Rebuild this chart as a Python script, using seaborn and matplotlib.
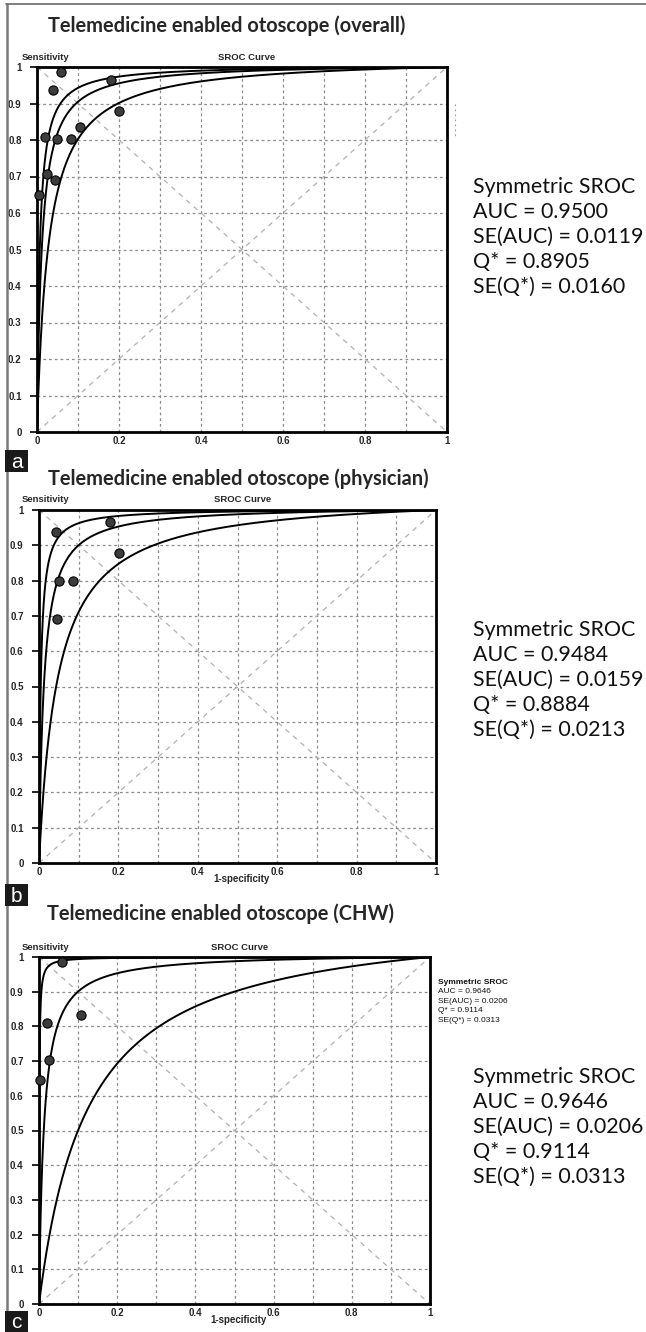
import numpy as np
import pandas as pd
import matplotlib
matplotlib.use("Agg")
import matplotlib.pyplot as plt
from matplotlib.lines import Line2D
from matplotlib.patches import Rectangle
import seaborn as sns

# ---------------- data ----------------
panel_titles = ["Telemedicine enabled otoscope (overall)",
                "Telemedicine enabled otoscope (physician)",
                "Telemedicine enabled otoscope (CHW)"]
panel_letters = ["a", "b", "c"]

# study points (1-specificity, sensitivity)
fpr_a = [0.058, 0.039, 0.020, 0.049, 0.084, 0.106, 0.180, 0.200, 0.025, 0.044, 0.004]
sens_a = [0.986, 0.936, 0.809, 0.802, 0.802, 0.835, 0.965, 0.879, 0.707, 0.691, 0.650]
fpr_b = [0.042, 0.180, 0.050, 0.085, 0.201, 0.046]
sens_b = [0.939, 0.965, 0.800, 0.800, 0.879, 0.691]
fpr_c = [0.059, 0.020, 0.107, 0.025, 0.003]
sens_c = [0.987, 0.809, 0.833, 0.704, 0.646]

# SROC curves: log diagnostic odds ratio of (upper, middle, lower) curve
lndor_a = [5.0, 4.45, 3.6]
lndor_b = [5.45, 4.4, 3.1]
lndor_c = [7.3, 4.4, 2.2]

auc_vals = ["0.9500", "0.9484", "0.9646"]
se_auc_vals = ["0.0119", "0.0159", "0.0206"]
q_vals = ["0.8905", "0.8884", "0.9114"]
se_q_vals = ["0.0160", "0.0213", "0.0313"]

y_ticks = [0, 0.1, 0.2, 0.3, 0.4, 0.5, 0.6, 0.7, 0.8, 0.9, 1]
y_tick_labels = ["0", "0.1", "0.2", "0.3", "0.4", "0.5", "0.6", "0.7", "0.8", "0.9", "1"]
x_ticks = [0, 0.2, 0.4, 0.6, 0.8, 1]
x_tick_labels = ["0", "0.2", "0.4", "0.6", "0.8", "1"]
grid_vals = [0.1, 0.2, 0.3, 0.4, 0.5, 0.6, 0.7, 0.8, 0.9]

# ---------------- layout ----------------
W, H = 646, 1332
sns.set_theme(style="white")
plt.rcParams["font.family"] = ["Liberation Sans", "DejaVu Sans"]
SANS = ["Liberation Sans", "DejaVu Sans"]

fig = plt.figure(figsize=(W / 100, H / 100), dpi=100)
fig.patch.set_facecolor("white")
renderer = fig.canvas.get_renderer()


def fx(x):
    return x / W


def fy(y):
    return 1 - y / H


def fit_size(text, family, weight, target, base=12.0):
    t = fig.text(0, 0, text, fontsize=base, family=family, weight=weight)
    w = t.get_window_extent(renderer).width
    t.remove()
    return base * target / w


# axes boxes in pixel coords (left, right, top, bottom)
boxes = [(37, 447, 67, 432), (39, 436, 510, 863), (39, 430, 957, 1304)]
title_base = [32, 485, 920]
title_x = [48, 48, 47]
letter_boxes = [(5, 450, 23, 22), (5, 884, 23, 22), (5, 1311, 23, 21)]

title_fs = fit_size(panel_titles[0], "Lato", "bold", 355)
big_fs = 0.5 * (fit_size("Symmetric SROC", "Lato", "normal", 164)
                + fit_size("SE(AUC) = 0.0119", "Lato", "normal", 167))

pts = [(fpr_a, sens_a), (fpr_b, sens_b), (fpr_c, sens_c)]
dors = [lndor_a, lndor_b, lndor_c]

xgrid = np.concatenate([np.logspace(-6, -1, 400), np.linspace(0.1, 0.99999, 400)[1:]])

for i in range(3):
    l, r, t, b = boxes[i]
    ax = fig.add_axes([fx(l), fy(b), (r - l) / W, (b - t) / H])
    ax.set_facecolor("white")
    # grid
    for g in grid_vals:
        ax.axhline(g, color="#8a8a8a", lw=0.9, ls=(0, (2.2, 2.4)), zorder=1)
        ax.axvline(g, color="#8a8a8a", lw=0.9, ls=(0, (2.2, 2.4)), zorder=1)
    # diagonals
    ax.plot([0, 1], [0, 1], color="#b0b0b0", lw=0.9, ls=(0, (4, 4)), zorder=1.5)
    ax.plot([0, 1], [1, 0], color="#b0b0b0", lw=0.9, ls=(0, (4, 4)), zorder=1.5)
    # SROC curves
    rows = []
    for k, d in enumerate(dors[i]):
        sens = 1.0 / (1.0 + np.exp(-(d + np.log(xgrid / (1 - xgrid)))))
        xs = np.concatenate([[0.0], xgrid, [1.0]])
        ys = np.concatenate([[0.0], sens, [1.0]])
        rows.append(pd.DataFrame({"fpr": xs, "sens": ys, "curve": k}))
    cdf = pd.concat(rows, ignore_index=True)
    sns.lineplot(data=cdf, x="fpr", y="sens", units="curve", estimator=None,
                 color="black", lw=1.4, ax=ax, sort=False, zorder=3)
    # points
    pdf = pd.DataFrame({"fpr": pts[i][0], "sens": pts[i][1]})
    sns.scatterplot(data=pdf, x="fpr", y="sens", s=44, color="#3c3c3c",
                    edgecolor="black", linewidth=0.8, ax=ax, zorder=4, clip_on=False)
    ax.set_xlim(0, 1)
    ax.set_ylim(0, 1)
    ax.set_xlabel("")
    ax.set_ylabel("")
    ax.set_yticks(y_ticks)
    ax.set_yticklabels(y_tick_labels, fontsize=7, fontweight="bold", family=SANS)
    ax.set_xticks(x_ticks)
    ax.set_xticklabels(x_tick_labels, fontsize=7, fontweight="bold", family=SANS)
    ax.tick_params(axis="y", length=5, width=1.2, color="black", pad=6, direction="out", left=True)
    ax.tick_params(axis="x", length=0, pad=3, bottom=True)
    for sp in ax.spines.values():
        sp.set_color("black")
        sp.set_linewidth(2)
        sp.set_visible(True)

    # labels around axes
    fig.text(fx(22), fy(t - 10), "Sensitivity", fontsize=6.8, fontweight="bold",
             ha="left", va="center", family=SANS)
    fig.text(fx((l + r) / 2 + 5), fy(t - 10), "SROC Curve", fontsize=6.8,
             fontweight="bold", ha="center", va="center", family=SANS)
    if i > 0:
        fig.text(fx((l + r) / 2 + 4), fy(b + 16), "1-specificity", fontsize=7,
                 fontweight="bold", ha="center", va="center", family=SANS)

    # title
    fig.text(fx(title_x[i]), fy(title_base[i]), panel_titles[i], family="Lato",
             fontweight="bold", fontsize=title_fs, ha="left", va="baseline")

    # big statistics text
    lines = ["Symmetric SROC", "AUC = " + auc_vals[i], "SE(AUC) = " + se_auc_vals[i],
             "Q* = " + q_vals[i], "SE(Q*) = " + se_q_vals[i]]
    for j, s in enumerate(lines):
        fig.text(fx(473), fy(t + 126 + 25 * j), s, family="Lato", fontsize=big_fs,
                 ha="left", va="baseline", color="#111111")

    # panel letter box
    lx, ly, lw_, lh = letter_boxes[i]
    fig.add_artist(Rectangle((fx(lx), fy(ly + lh)), lw_ / W, lh / H,
                             transform=fig.transFigure, facecolor="#1a1a1a",
                             edgecolor="none", zorder=5))
    fig.text(fx(lx + lw_ / 2), fy(ly + lh / 2 + 1), panel_letters[i], color="white",
             fontsize=15, ha="center", va="center", zorder=6, family=SANS)

# small in-plot statistics text of panel c
small_lines = ["Symmetric SROC", "AUC = " + auc_vals[2], "SE(AUC) = " + se_auc_vals[2],
               "Q* = " + q_vals[2], "SE(Q*) = " + se_q_vals[2]]
for j, s in enumerate(small_lines):
    fig.text(fx(438), fy(982 + 9.6 * j), s, fontsize=6, ha="left", va="center",
             fontweight="bold" if j == 0 else "normal", color="#111111", family=SANS)

# frame lines of the composite figure
fig.add_artist(Line2D([fx(6.5), fx(6.5)], [fy(3.5), fy(H)], transform=fig.transFigure,
                      color="#7a7a7a", lw=1.8))
fig.add_artist(Line2D([fx(5.5), fx(W)], [fy(3.5), fy(3.5)], transform=fig.transFigure,
                      color="#6a6a6a", lw=1.2))
# faint remnant marks right of panel a
fig.add_artist(Line2D([fx(455), fx(455)], [fy(104), fy(136)], transform=fig.transFigure,
                      color="#9a9a9a", lw=0.8, ls=(0, (1.5, 3))))

fig.savefig("out.png", dpi=100, facecolor="white")
